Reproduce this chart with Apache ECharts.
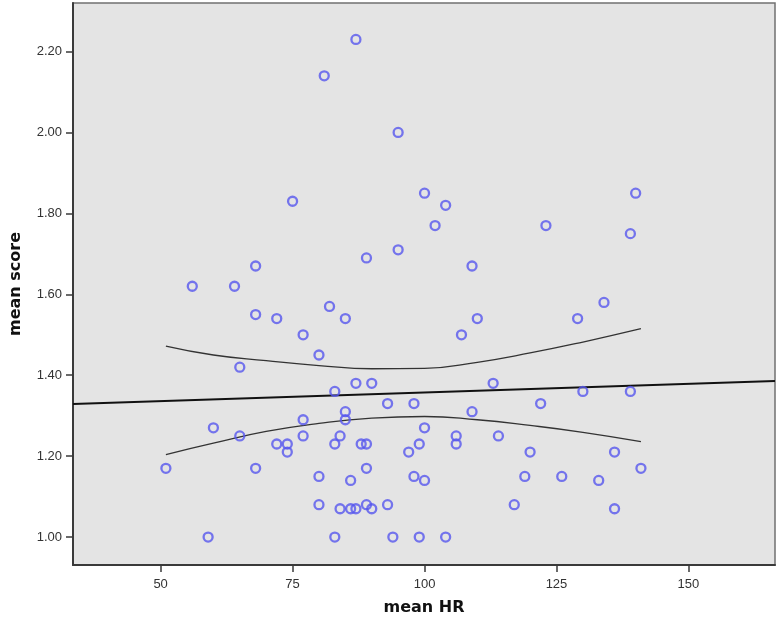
<!DOCTYPE html>
<html>
<head>
<meta charset="utf-8">
<script src="https://cdn.jsdelivr.net/npm/echarts@6/dist/echarts.min.js"></script>
<style>
html,body{margin:0;padding:0;background:#fff;}
#chart{width:778px;height:622px;}
</style>
</head>
<body>
<div id="chart"></div>
<script>
// ---- data ----
const meanHR = [87,81,95,75,95,89,68,56,64,100,104,102,123,140,139,109,134,129,68,72,82,85,77,80,65,83,85,85,77,60,65,77,72,74,74,84,83,51,68,80,80,84,59,83,110,107,87,90,113,93,98,109,100,88,89,99,97,106,106,114,89,86,98,100,86,87,89,90,93,94,99,104,130,139,122,120,136,141,119,126,133,117,136];
const meanScore = [2.23,2.14,2.00,1.83,1.71,1.69,1.67,1.62,1.62,1.85,1.82,1.77,1.77,1.85,1.75,1.67,1.58,1.54,1.55,1.54,1.57,1.54,1.50,1.45,1.42,1.36,1.31,1.29,1.29,1.27,1.25,1.25,1.23,1.23,1.21,1.25,1.23,1.17,1.17,1.15,1.08,1.07,1.00,1.00,1.54,1.50,1.38,1.38,1.38,1.33,1.33,1.31,1.27,1.23,1.23,1.23,1.21,1.25,1.23,1.25,1.17,1.14,1.15,1.14,1.07,1.07,1.08,1.07,1.08,1.00,1.00,1.00,1.36,1.36,1.33,1.21,1.21,1.17,1.15,1.15,1.14,1.08,1.07];

// fit line (spans the full axis) and confidence band
const fitX = [33.4, 166.4];
const fitY = [1.329, 1.386];
const bandX = [51, 60, 70, 80, 90, 100, 110, 120, 130, 141];
const bandUpper = [1.472, 1.450, 1.436, 1.424, 1.416, 1.417, 1.432, 1.455, 1.482, 1.515];
const bandLower = [1.204, 1.232, 1.261, 1.281, 1.294, 1.298, 1.290, 1.276, 1.259, 1.236];

const xTicks = [50, 75, 100, 125, 150];
const yTicks = [1.00, 1.20, 1.40, 1.60, 1.80, 2.00, 2.20];
const xName = 'mean HR';
const yName = 'mean score';

const pts = meanHR.map((x, i) => [x, meanScore[i]]);
const fit = fitX.map((x, i) => [x, fitY[i]]);
const up = bandX.map((x, i) => [x, bandUpper[i]]);
const lo = bandX.map((x, i) => [x, bandLower[i]]);

const chart = echarts.init(document.getElementById('chart'), null, {renderer: 'canvas'});
const labelFont = {fontFamily: 'Liberation Sans, Arial, sans-serif', fontSize: 13, color: '#333'};
const nameFont = {fontFamily: 'DejaVu Sans, sans-serif', fontSize: 16, fontWeight: 'bold', color: '#111'};

chart.setOption({
  animation: false,
  backgroundColor: '#ffffff',
  grid: {
    left: 63, right: 3, top: 3, bottom: 57,
    show: true, backgroundColor: '#e4e4e4', borderColor: '#707070', borderWidth: 1.5
  },
  xAxis: {
    type: 'value', min: 33.4, max: 166.4,
    name: xName, nameLocation: 'middle', nameGap: 35, nameTextStyle: nameFont,
    axisLine: {show: true, onZero: false, lineStyle: {color: '#3a3a3a', width: 2}},
    axisTick: {show: true, length: 7, customValues: xTicks, lineStyle: {color: '#3a3a3a', width: 1.5}},
    axisLabel: {customValues: xTicks, margin: 13, formatter: v => String(v), ...labelFont},
    splitLine: {show: false}
  },
  yAxis: {
    type: 'value', min: 0.931, max: 2.32,
    name: yName, nameLocation: 'middle', nameGap: 49, nameTextStyle: nameFont,
    axisLine: {show: true, onZero: false, lineStyle: {color: '#3a3a3a', width: 2}},
    axisTick: {show: true, length: 7, customValues: yTicks, lineStyle: {color: '#3a3a3a', width: 1.5}},
    axisLabel: {customValues: yTicks, margin: 11, formatter: v => v.toFixed(2), ...labelFont},
    splitLine: {show: false}
  },
  series: [
    {
      type: 'line', data: fit, showSymbol: false, symbol: 'none', z: 2,
      lineStyle: {color: '#111111', width: 2}
    },
    {
      type: 'line', data: up, showSymbol: false, symbol: 'none', smooth: true, z: 2,
      lineStyle: {color: '#333333', width: 1.3}
    },
    {
      type: 'line', data: lo, showSymbol: false, symbol: 'none', smooth: true, z: 2,
      lineStyle: {color: '#333333', width: 1.3}
    },
    {
      type: 'scatter', data: pts, symbol: 'circle', symbolSize: 9, z: 3,
      itemStyle: {color: 'rgba(0,0,0,0)', borderColor: '#5656ee', borderWidth: 2.3}
    }
  ]
});
</script>
</body>
</html>
